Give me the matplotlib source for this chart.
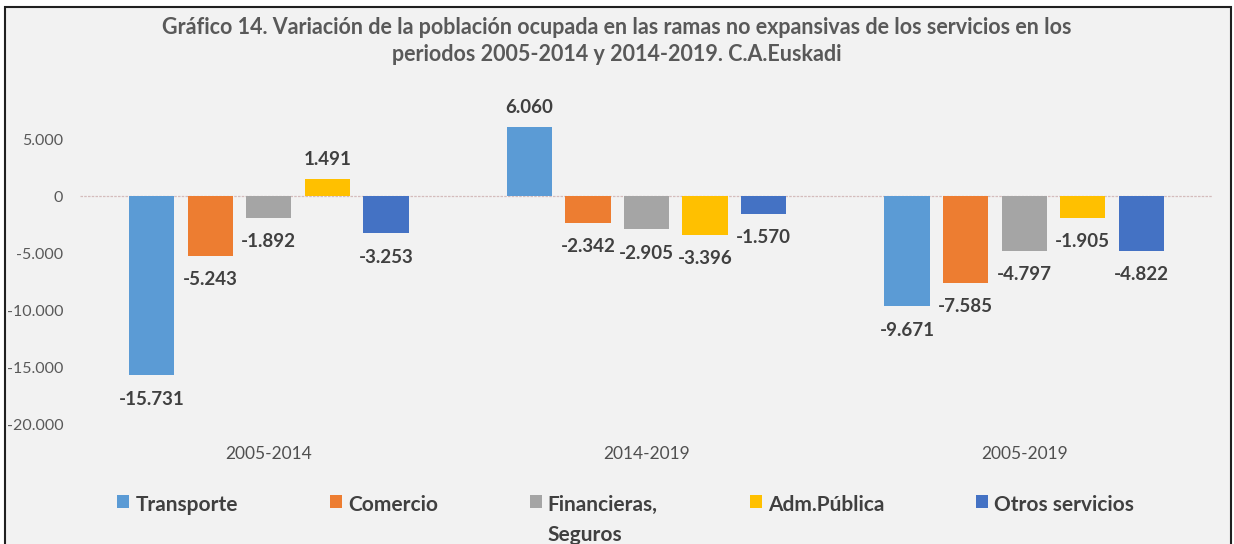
import matplotlib.pyplot as plt
import numpy as np
from matplotlib.patches import Rectangle

periods = ["2005-2014", "2014-2019", "2005-2019"]
series = ["Transporte", "Comercio", "Financieras,\nSeguros", "Adm.Pública", "Otros servicios"]
transporte = [-15731, 6060, -9671]
comercio = [-5243, -2342, -7585]
financieras = [-1892, -2905, -4797]
adm_publica = [1491, -3396, -1905]
otros = [-3253, -1570, -4822]
colors = ["#5B9BD5", "#ED7D31", "#A5A5A5", "#FFC000", "#4472C4"]

plt.rcParams['font.family'] = ['Lato', 'DejaVu Sans']


def miles(v):
    return f"{int(v):,}".replace(",", ".")


fig = plt.figure(figsize=(12.34, 5.44), dpi=100, facecolor='white')
# fondo gris con marco
fig.patches.append(Rectangle((5 / 1234, -0.1), 1226 / 1234, 1.1 - 7 / 544,
                             transform=fig.transFigure, fc='#F2F2F2', ec='#202020',
                             lw=1.5, zorder=-1))

ax = fig.add_axes([80 / 1234, 1 - 424 / 544, 1133 / 1234, 336 / 544])
ax.set_facecolor('none')

x = np.arange(len(periods))
step = 0.155
width = 0.12
data = [transporte, comercio, financieras, adm_publica, otros]
for i, (vals, name, col) in enumerate(zip(data, series, colors)):
    xs = x + (i - 2) * step
    ax.bar(xs, vals, width, color=col, label=name, zorder=2)
    for xi, v in zip(xs, vals):
        ax.annotate(miles(v), (xi, v), xytext=(0, 8 if v > 0 else -11),
                    textcoords='offset points', ha='center',
                    va='bottom' if v > 0 else 'top', fontsize=13.5,
                    fontweight='bold', color='#404040')

ax.axhline(0, color='#d4bcbc', lw=0.9, ls=(0, (2, 1)), zorder=1)
ax.set_xlim(-0.5, 2.5)
ax.set_ylim(-20000, 9500)
ax.set_yticks(np.arange(-20000, 5001, 5000))
ax.yaxis.set_major_formatter(lambda v, p: miles(v))
ax.set_xticks(x, periods)
for s in ax.spines.values():
    s.set_visible(False)
ax.tick_params(length=0, labelsize=11.5, labelcolor='#595959')
ax.tick_params(axis='y', pad=12)
ax.tick_params(axis='x', pad=16, labelsize=12.5, labelcolor='#505050')

fig.text(617 / 1234, 1 - 41 / 544,
         "Gráfico 14. Variación de la población ocupada en las ramas no expansivas de los servicios en los\n"
         "periodos 2005-2014 y 2014-2019. C.A.Euskadi",
         ha='center', va='center', fontsize=15.5, fontweight='bold', color='#595959',
         linespacing=1.4)

leg = fig.legend(loc='upper left', bbox_to_anchor=(117 / 1234, 1 - 495 / 544), ncol=5,
                 frameon=False, prop={'weight': 'bold', 'size': 15}, labelcolor='#404040',
                 handlelength=0.58, handleheight=0.58, handletextpad=0.3,
                 columnspacing=4.4, borderpad=0, borderaxespad=0)
for t in leg.get_texts():
    t.set_linespacing(1.6)
# alinear cuadros y textos con la primera linea
box = leg._legend_handle_box
box.align = 'top'
for col in box.get_children():
    for entry in col.get_children():
        entry.align = 'top'

fig.savefig('out.png', dpi=100, facecolor=fig.get_facecolor())
